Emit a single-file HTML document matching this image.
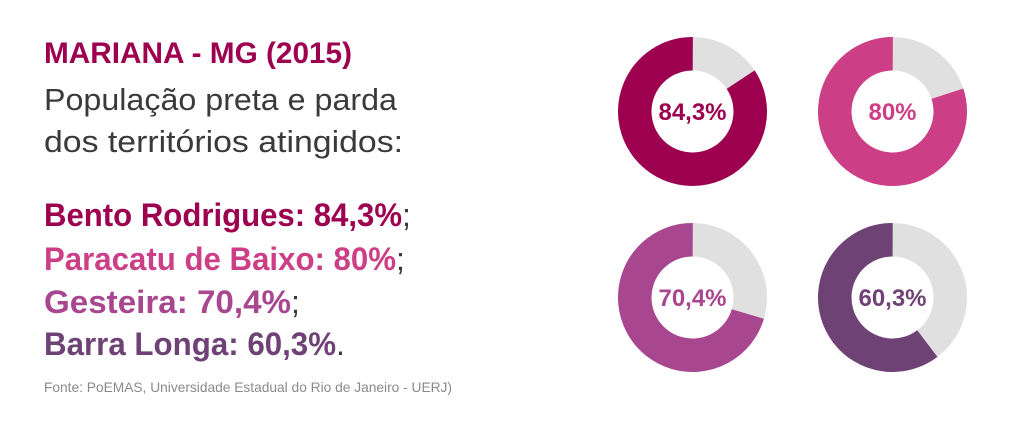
<!DOCTYPE html>
<html><head><meta charset="utf-8"><style>
html,body{margin:0;padding:0;background:#fff;}
svg{display:block;}
text{font-family:"Liberation Sans",sans-serif;}
</style></head><body>
<svg width="1024" height="427" viewBox="0 0 1024 427" xmlns="http://www.w3.org/2000/svg">
<text x="44" y="63" font-size="30" font-weight="bold" fill="#9e0050" textLength="308" lengthAdjust="spacingAndGlyphs">MARIANA - MG (2015)</text>
<text x="44" y="110" font-size="31" fill="#3a3a3a" textLength="353" lengthAdjust="spacingAndGlyphs">População preta e parda</text>
<text x="44" y="152" font-size="31" fill="#3a3a3a" textLength="359" lengthAdjust="spacingAndGlyphs">dos territórios atingidos:</text>
<text x="44" y="226" font-size="32" font-weight="bold" fill="#9e0050" textLength="358" lengthAdjust="spacingAndGlyphs">Bento Rodrigues: 84,3%</text><text x="402" y="226" font-size="32" fill="#3a3a3a">;</text>
<text x="44" y="270" font-size="32" font-weight="bold" fill="#cc3f86" textLength="352" lengthAdjust="spacingAndGlyphs">Paracatu de Baixo: 80%</text><text x="396" y="270" font-size="32" fill="#3a3a3a">;</text>
<text x="44" y="313" font-size="32" font-weight="bold" fill="#a8468f" textLength="247" lengthAdjust="spacingAndGlyphs">Gesteira: 70,4%</text><text x="291" y="313" font-size="32" fill="#3a3a3a">;</text>
<text x="44" y="355" font-size="32" font-weight="bold" fill="#6e4275" textLength="292" lengthAdjust="spacingAndGlyphs">Barra Longa: 60,3%</text><text x="336" y="355" font-size="32" fill="#3a3a3a">.</text>
<text x="44" y="392" font-size="14" fill="#8a8a8a" textLength="408" lengthAdjust="spacingAndGlyphs">Fonte: PoEMAS, Universidade Estadual do Rio de Janeiro - UERJ)</text>

<g transform="translate(692.5,111.5)">
<circle r="57.75" fill="none" stroke="#e0e0e0" stroke-width="33.5"/>
<circle r="57.75" fill="none" stroke="#9e0050" stroke-width="33.5" stroke-dasharray="305.9 400" transform="rotate(-33.5)"/>
<text y="8.5" text-anchor="middle" font-size="24" font-weight="bold" fill="#9e0050">84,3%</text>
</g>
<g transform="translate(892.5,111.5)">
<circle r="57.75" fill="none" stroke="#e0e0e0" stroke-width="33.5"/>
<circle r="57.75" fill="none" stroke="#cc3f86" stroke-width="33.5" stroke-dasharray="290.3 400" transform="rotate(-18)"/>
<text y="8.5" text-anchor="middle" font-size="24" font-weight="bold" fill="#cc3f86">80%</text>
</g>
<g transform="translate(692.5,297.5)">
<circle r="57.75" fill="none" stroke="#e0e0e0" stroke-width="33.5"/>
<circle r="57.75" fill="none" stroke="#a8468f" stroke-width="33.5" stroke-dasharray="255.4 400" transform="rotate(16.6)"/>
<text y="8.5" text-anchor="middle" font-size="24" font-weight="bold" fill="#a8468f">70,4%</text>
</g>
<g transform="translate(892.5,297.5)">
<circle r="57.75" fill="none" stroke="#e0e0e0" stroke-width="33.5"/>
<circle r="57.75" fill="none" stroke="#6e4275" stroke-width="33.5" stroke-dasharray="218.8 400" transform="rotate(52.9)"/>
<text y="8.5" text-anchor="middle" font-size="24" font-weight="bold" fill="#6e4275">60,3%</text>
</g>
</svg>
</body></html>
